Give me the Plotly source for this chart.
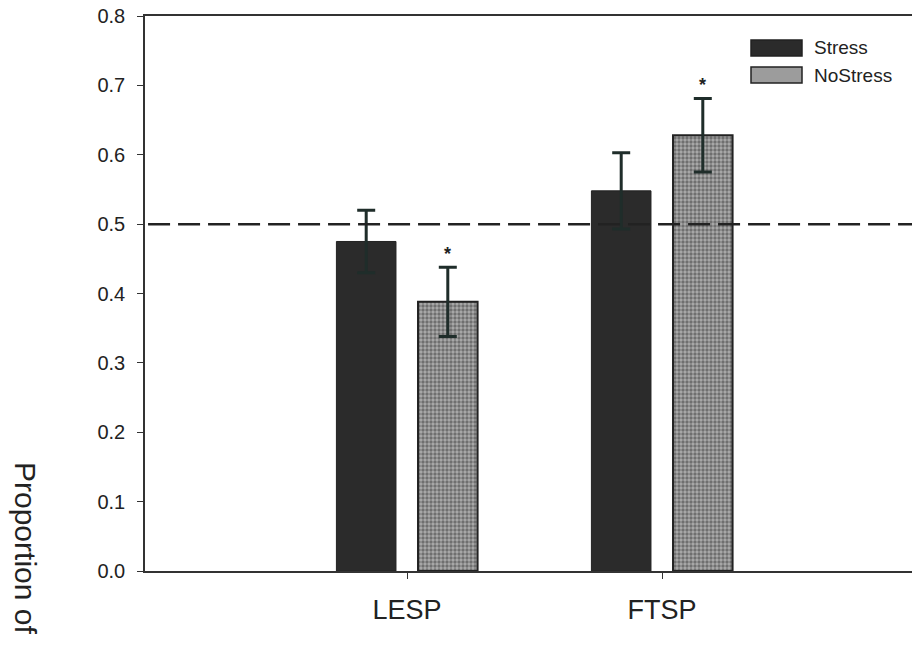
import plotly.graph_objects as go

categories = ["LESP", "FTSP"]
stress = [0.475, 0.548]
stress_err = [0.045, 0.055]
nostress = [0.388, 0.628]
nostress_err = [0.050, 0.053]
series_names = ["Stress", "NoStress"]
y_ticks = [0.0, 0.1, 0.2, 0.3, 0.4, 0.5, 0.6, 0.7, 0.8]
chance_level = 0.5
y_title = "Proportion of"

W, H = 912, 646
ML, MR, MT, MB = 145, 0, 16, 75
PW = W - ML - MR
PH = H - MT - MB

BARGAP = 0.36
GROUPGAP = 0.27
unit_px = 255.0  # pixels per category
offset_px = (1 - BARGAP) / 4 * unit_px

ink = "#222222"
err_col = "#1f2d2a"

fig = go.Figure()
fig.add_trace(go.Bar(
    name=series_names[0], x=categories, y=stress,
    marker=dict(color="#2b2b2b", line=dict(color="#222222", width=1)),
    error_y=dict(type="data", array=stress_err, visible=True,
                 color=err_col, thickness=3, width=9),
    showlegend=False,
))
fig.add_trace(go.Bar(
    name=series_names[1], x=categories, y=nostress,
    marker=dict(color="#9c9c9c",
                pattern=dict(shape=".", fgcolor="#333333", bgcolor="#ababab",
                             size=4, solidity=0.55),
                line=dict(color="#222222", width=2)),
    error_y=dict(type="data", array=nostress_err, visible=True,
                 color=err_col, thickness=3, width=9),
    showlegend=False,
))

# significance asterisks above NoStress bars
for c, v, e in zip(categories, nostress, nostress_err):
    fig.add_annotation(x=c, y=v + e + 0.002, xref="x", yref="y",
                       text="<b>*</b>", showarrow=False, xshift=offset_px,
                       yanchor="bottom",
                       font=dict(family="Arial, Liberation Sans", size=18, color=ink))

# chance line
fig.add_shape(type="line", xref="paper", yref="y", x0=0.004, x1=1,
              y0=chance_level, y1=chance_level,
              line=dict(color=ink, width=2.5, dash="22px,8px"))

# legend (manual, wide swatches)
def px2x(p):
    return (p - ML) / PW

def px2y(p):
    return (H - MB - p) / PH

leg_items = [(series_names[0], "#2b2b2b", 40, 56), (series_names[1], "#9c9c9c", 67, 83)]
for name, col, y0, y1 in leg_items:
    fig.add_shape(type="rect", xref="paper", yref="paper",
                  x0=px2x(751), x1=px2x(802), y0=px2y(y1), y1=px2y(y0),
                  fillcolor=col, line=dict(color="#222222", width=1.5))
    fig.add_annotation(xref="paper", yref="paper", x=px2x(812), y=px2y((y0 + y1) / 2),
                       text=name, showarrow=False, xanchor="left", yanchor="middle",
                       font=dict(family="Arial, Liberation Sans", size=19, color=ink))

# rotated y-axis title (reads top-to-bottom)
fig.add_annotation(xref="paper", yref="paper", x=px2x(26), y=px2y(460),
                   text=y_title, showarrow=False, textangle=90,
                   xanchor="center", yanchor="top",
                   font=dict(family="Arial, Liberation Sans", size=30, color=ink))

n = len(categories)
fig.update_layout(
    width=W, height=H,
    margin=dict(l=ML, r=MR, t=MT, b=MB, pad=0),
    paper_bgcolor="white", plot_bgcolor="white",
    barmode="group", bargap=BARGAP, bargroupgap=GROUPGAP,
    showlegend=False,
    font=dict(family="Arial, Liberation Sans", color=ink),
    xaxis=dict(
        type="category",
        range=[-(407 - ML) / unit_px, (n - 1) + (W - MR - 662) / unit_px],
        showline=True, linecolor="#333333", linewidth=1.5, mirror=True,
        ticks="outside", ticklen=6, tickwidth=1.2, tickcolor="#333333",
        tickfont=dict(size=27, color=ink), ticklabelstandoff=8,
        showgrid=False, zeroline=False,
    ),
    yaxis=dict(
        range=[0, 0.8], tickvals=y_ticks, tickformat=".1f",
        showline=True, linecolor="#333333", linewidth=1.5,
        ticks="outside", ticklen=6, tickwidth=1.2, tickcolor="#333333",
        tickfont=dict(size=20, color=ink), ticklabelstandoff=8,
        showgrid=False, zeroline=False,
    ),
)

fig.write_html("out.html")
